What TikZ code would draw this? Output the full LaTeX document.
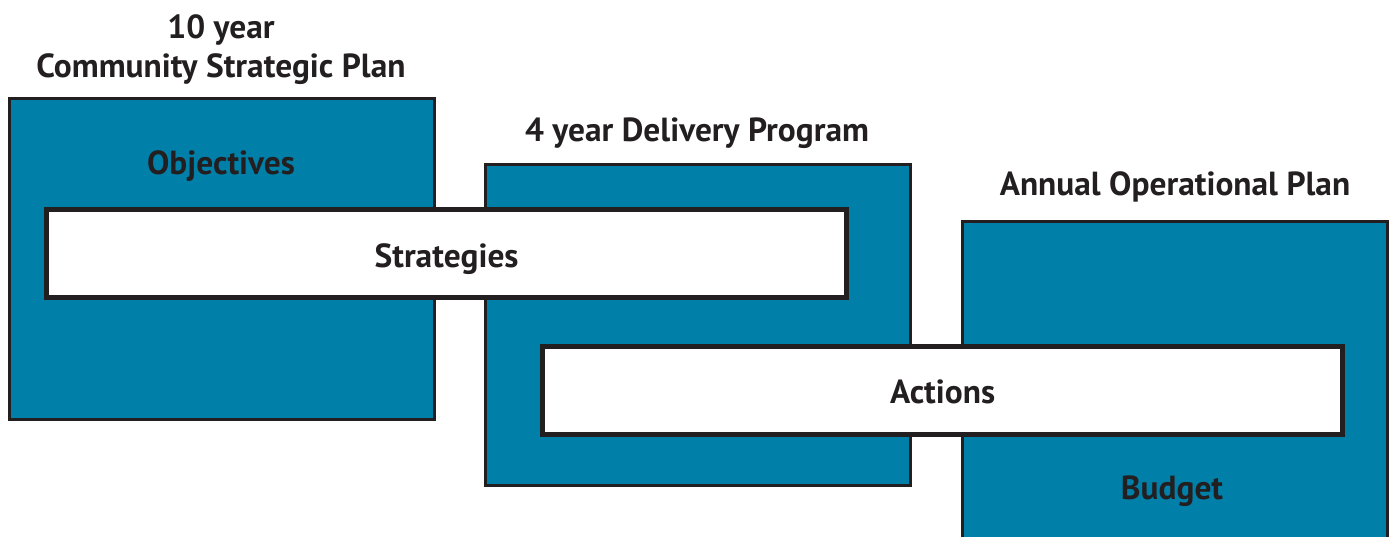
\documentclass[tikz,border=0pt]{standalone}
\usepackage{fontspec}
\setmainfont{PT Sans}
\usetikzlibrary{positioning}
\definecolor{planblue}{HTML}{0080A9}
\definecolor{inkgray}{HTML}{231F20}

\begin{document}
\begin{tikzpicture}[
    x=0.5pt,y=-0.5pt,
    plan/.style={rectangle,draw=inkgray,line width=1.4pt,fill=planblue,anchor=north west,minimum width=212.5pt,minimum height=160.5pt,inner sep=0pt},
    bar/.style={rectangle,draw=inkgray,line width=2.6pt,fill=white,anchor=north west,minimum width=400pt,minimum height=44pt,inner sep=0pt,font=\fontsize{16.7}{20}\selectfont\bfseries,text=inkgray},
    head/.style={align=center,font=\fontsize{16.7}{19.5}\selectfont\bfseries,text=inkgray,inner sep=0pt,yshift=-1.5pt},
    lbl/.style={font=\fontsize{16.7}{20}\selectfont\bfseries,text=inkgray,inner sep=0pt,yshift=-1.5pt}]
    \useasboundingbox (0,0) rectangle (1392,536);
    % the three planning levels
    \node[plan] (csp) at (8,97) {};
    \node[plan] (dp) at (484,163) {};
    \node[plan,minimum height=170pt] (op) at (961,220) {};
    \node[head] (csphead) at (221,47) {10 year\\Community Strategic Plan};
    \node[head] (dphead) at (697,130) {4 year Delivery Program};
    \node[head] (ophead) at (1175,184) {Annual Operational Plan};
    \node[lbl] (obj) at (221,163) {Objectives};
    \node[lbl] (bud) at (1172,488) {Budget};
    % links across the levels
    \node[bar,text depth=0pt] (strat) at (44,207) {\raisebox{-1.5pt}{Strategies}};
    \node[bar,text depth=0pt] (act) at (540,344) {\raisebox{-1.5pt}{Actions}};
\end{tikzpicture}
\end{document}
